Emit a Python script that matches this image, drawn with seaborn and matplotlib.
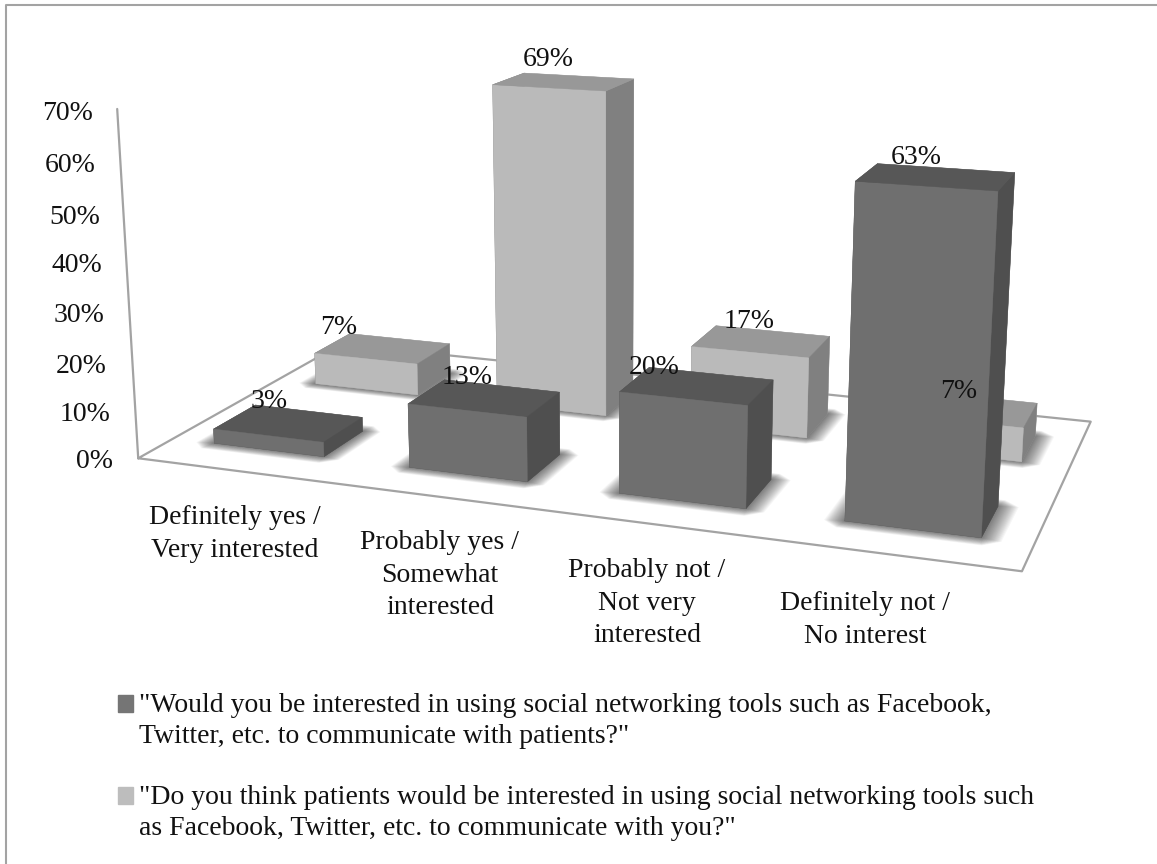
import numpy as np
import seaborn as sns
import matplotlib
matplotlib.use("Agg")
import matplotlib.pyplot as plt
from matplotlib.lines import Line2D
from matplotlib.patches import Patch, Rectangle
from matplotlib.legend_handler import HandlerPatch
from mpl_toolkits.mplot3d.art3d import Poly3DCollection

# Survey responses, in percent
categories = ["Definitely yes /\nVery interested",
              "Probably yes /\nSomewhat\ninterested",
              "Probably not /\nNot very\ninterested",
              "Definitely not /\nNo interest"]
series_names = ['"Would you be interested in using social networking tools such as Facebook,\n'
                'Twitter, etc. to communicate with patients?"',
                '"Do you think patients would be interested in using social networking tools such\n'
                'as Facebook, Twitter, etc. to communicate with you?"']
use_tools = [3, 13, 20, 63]
patients_interested = [7, 69, 17, 7]
value_ticks = [0, 10, 20, 30, 40, 50, 60, 70]

# Label placement in pixels (centre x, centre y)
use_tools_label_xy = [(269, 401), (467, 378), (654, 367), (916, 158)]
patients_label_xy = [(339, 328), (548, 60), (749, 321), (959, 392)]
category_label_xy = [(235, 534), (440, 575), (647, 603), (865, 620)]
tick_label_right_px = [113, 110, 107, 104, 102, 100, 96, 93]
tick_label_y_px = [462, 414, 366, 316, 266, 217, 166, 114]

WIDTH, HEIGHT = 1157, 864
BAR_GAP_X, BAR_GAP_Y = 0.215, 0.305
FONT = ["Liberation Serif", "DejaVu Serif"]
FONT_SIZE = 20.0

# Pinhole camera of the scene: (category, series, value, 1) -> homogeneous pixel
CAMERA = np.array([[185.4120714, 133.9530255, -0.3717467, 138.2085839],
                   [8.3967453, -24.0675928, -5.0566111, 458.2662695],
                   [-0.0347573, 0.0956787, -0.0006104, 1.0]])

sns.set_theme(style="white")
plt.rcParams["font.family"] = FONT
# front / top / side shades for each series
dark = sns.color_palette(["#6f6f6f", "#575757", "#4f4f4f"])
light = sns.color_palette(["#bababa", "#989898", "#808080"])
rule_color = "#a3a3a3"

fig = plt.figure(figsize=(WIDTH / 100, HEIGHT / 100), dpi=100, facecolor="white")
# 3D axes keep a square box, so make that square span the full figure width
ax = fig.add_axes([0, (1 - WIDTH / HEIGHT) / 2, 1, WIDTH / HEIGHT], projection="3d", computed_zorder=False)
ax.set_axis_off()


def scene_projection():
    # Convert the pixel camera into the axes' own view coordinates at draw time.
    inv = ax.transData.inverted()
    (x0, y0), (x1, y1) = inv.transform([(0, HEIGHT), (WIDTH, 0)])
    sx, sy = (x1 - x0) / WIDTH, (y1 - y0) / HEIGHT
    return np.array([sx * CAMERA[0] + x0 * CAMERA[2],
                     sy * CAMERA[1] + y0 * CAMERA[2],
                     [0, 0, 0, -1],
                     CAMERA[2]])


ax.get_proj = scene_projection
ax.set(xlim=(0, 4), ylim=(0, 2), zlim=(0, 70))

# Floor outline and value axis
corners = np.array([(0, 0), (4, 0), (4, 2), (0, 2), (0, 0)])
ax.plot(corners[:, 0], corners[:, 1], 0 * corners[:, 0], color=rule_color, lw=1.6, zorder=1)
ax.plot([0, 0], [0, 0], [0, max(value_ticks)], color=rule_color, lw=1.6, zorder=1)


def draw_bar(i, s, value, shades, z):
    x0, x1 = i + BAR_GAP_X, i + 1 - BAR_GAP_X
    y0, y1 = s + BAR_GAP_Y, s + 1 - BAR_GAP_Y
    # Soft contact shadow, built from stacked translucent chamfered footprints
    for m in np.linspace(0.085, 0.004, 18):
        c = m * 0.8
        ax0, ax1, ay0, ay1 = x0 - m, x1 + m, y0 - m, y1 + m
        quad = [[(ax0 + c, ay0, 0), (ax1 - c, ay0, 0), (ax1, ay0 + c, 0), (ax1, ay1 - c, 0),
                 (ax1 - c, ay1, 0), (ax0 + c, ay1, 0), (ax0, ay1 - c, 0), (ax0, ay0 + c, 0)]]
        ax.add_collection3d(Poly3DCollection(quad, facecolor=(0, 0, 0, 0.036), edgecolor="none", zorder=z - 0.5))
    front, top, side = shades
    faces = [top, top, front, front, side, side]
    ax.bar3d(x0, y0, 0, x1 - x0, y1 - y0, value, color=faces, edgecolor=faces, linewidth=0.3,
             shade=False, zorder=z)


for i, v in enumerate(patients_interested):
    draw_bar(i, 1, v, light, 3)
for i, v in enumerate(use_tools):
    draw_bar(i, 0, v, dark, 5)


def px_text(x, y, s, **kw):
    kw.setdefault("ha", "center")
    kw.setdefault("va", "center")
    fig.text(x / WIDTH, 1 - y / HEIGHT, s, fontsize=FONT_SIZE, color="#111111", zorder=10, **kw)


for v, (x, y) in zip(use_tools + patients_interested, use_tools_label_xy + patients_label_xy):
    px_text(x, y, f"{v}%")
for t, x, y in zip(value_ticks, tick_label_right_px, tick_label_y_px):
    px_text(x, y, f"{t}%", ha="right")
for name, (x, y) in zip(categories, category_label_xy):
    px_text(x, y, name, multialignment="center", linespacing=1.42)


def legend_swatch(legend, orig_handle, xdescent, ydescent, width, height, fontsize):
    # Align the swatch with the first line of a two-line entry
    return Rectangle((-xdescent, -ydescent + 0.61 * fontsize), width, height)


handles = [Patch(color="#757575"), Patch(color="#bdbdbd")]
leg = fig.legend(handles, series_names, loc="upper left", bbox_to_anchor=(118 / WIDTH, 1 - 693 / HEIGHT),
                 frameon=False, fontsize=FONT_SIZE, borderpad=0, borderaxespad=0,
                 handlelength=0.54, handleheight=0.54, handletextpad=0.22, labelspacing=1.29,
                 handler_map={Patch: HandlerPatch(patch_func=legend_swatch)})
for t in leg.get_texts():
    t.set_color("#111111")
    t.set_linespacing(1.32)

# Chart frame along the top and left edges
fig.add_artist(Line2D([6 / WIDTH, 6 / WIDTH, 1], [0, 1 - 5 / HEIGHT, 1 - 5 / HEIGHT], color=rule_color, lw=1.5))

fig.savefig("out.png", dpi=100)
